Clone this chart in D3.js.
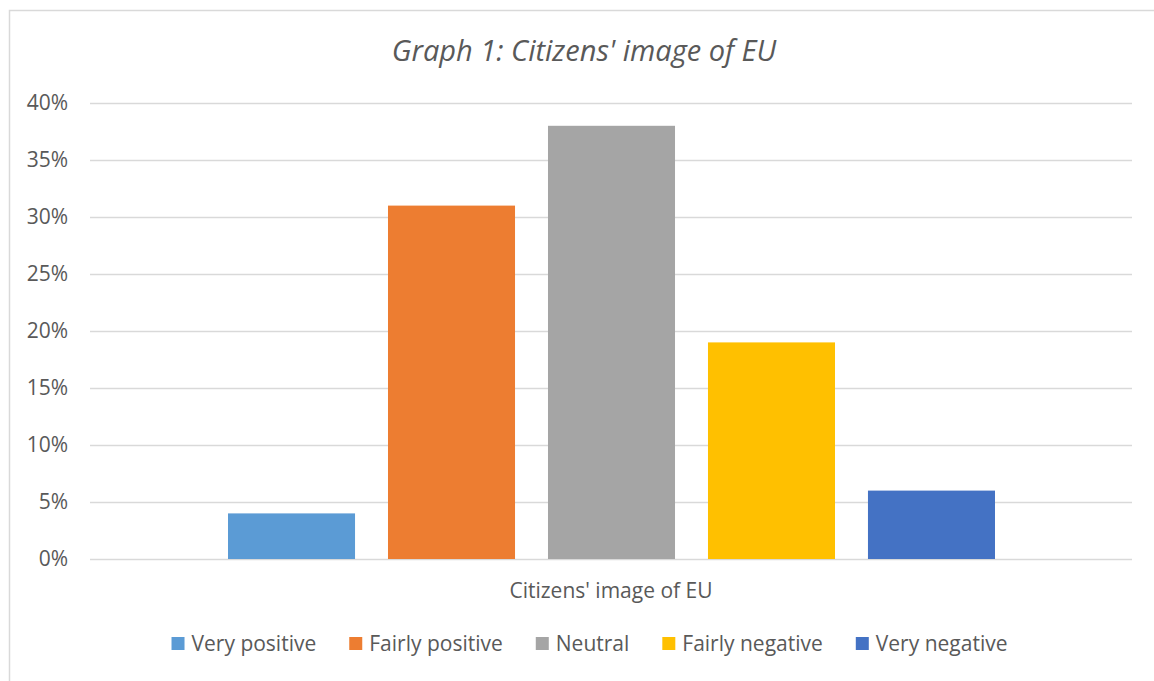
<!DOCTYPE html>
<html><head><meta charset="utf-8">
<script src="https://cdn.jsdelivr.net/npm/d3@7"></script>
<style>body{margin:0;background:#fff}svg{display:block}text{font-family:"Open Sans",sans-serif;fill:#595959}</style>
</head><body><svg id="c" width="1154" height="681"></svg>
<script>
const categories = ["Citizens' image of EU"];
const seriesNames = ["Very positive","Fairly positive","Neutral","Fairly negative","Very negative"];
const seriesValues = [4, 31, 38, 19, 6];
const seriesColors = ["#5b9bd5","#ed7d31","#a5a5a5","#ffc000","#4472c4"];
const yTicks = [0,5,10,15,20,25,30,35,40];
const title = "Graph 1: Citizens' image of EU";

const svg = d3.select("#c");
svg.append("rect").attr("x",9.5).attr("y",10.5).attr("width",1160).attr("height",700)
  .attr("fill","#fff").attr("stroke","#d9d9d9").attr("stroke-width",1.5);

const plot = {left:90, right:1132, top:103, bottom:559};
const y = d3.scaleLinear().domain([0,40]).range([plot.bottom, plot.top]);
const xCat = d3.scaleBand().domain(categories).range([plot.left, plot.right]);
const outerGap = 138;
const xs = d3.scaleBand().domain(seriesNames)
  .range([xCat(categories[0]) + outerGap, xCat(categories[0]) + xCat.bandwidth() - outerGap + 1])
  .paddingInner(0.206).paddingOuter(0);

const yAxis = d3.axisLeft(y).tickValues(yTicks).tickFormat(d => d + "%").tickSize(-(plot.right-plot.left)).tickPadding(22);
const ga = svg.append("g").attr("transform",`translate(${plot.left},0)`).call(yAxis);
ga.select(".domain").remove();
ga.selectAll(".tick line").attr("stroke","#d9d9d9").attr("stroke-width",1.5);
ga.selectAll(".tick text").style("font-size","21px").attr("fill","#595959");

svg.append("g").selectAll("rect").data(seriesNames).join("rect")
  .attr("x", d => xs(d)).attr("width", xs.bandwidth())
  .attr("y", (d,i) => y(seriesValues[i])).attr("height", (d,i) => y(0) - y(seriesValues[i]))
  .attr("fill", (d,i) => seriesColors[i]);

svg.append("text").attr("x", 584).attr("y", 61).attr("text-anchor","middle")
  .style("font-size","29px").style("font-style","italic").text(title);

svg.append("text").attr("x", xCat(categories[0]) + xCat.bandwidth()/2).attr("y", 598).attr("text-anchor","middle")
  .style("font-size","21px").text(categories[0]);

// legend
const lg = svg.append("g");
let xpos = 0;
seriesNames.forEach((n,i) => {
  const g = lg.append("g").attr("transform",`translate(${xpos},0)`);
  g.append("rect").attr("x",0).attr("y",-14).attr("width",13).attr("height",13).attr("fill",seriesColors[i]);
  const t = g.append("text").attr("x",20).attr("y",0).style("font-size","21px").text(n);
  xpos += 20 + t.node().getComputedTextLength() + 33;
});
const total = xpos - 33;
lg.attr("transform",`translate(${589.5 - total/2},651)`);
</script></body></html>
